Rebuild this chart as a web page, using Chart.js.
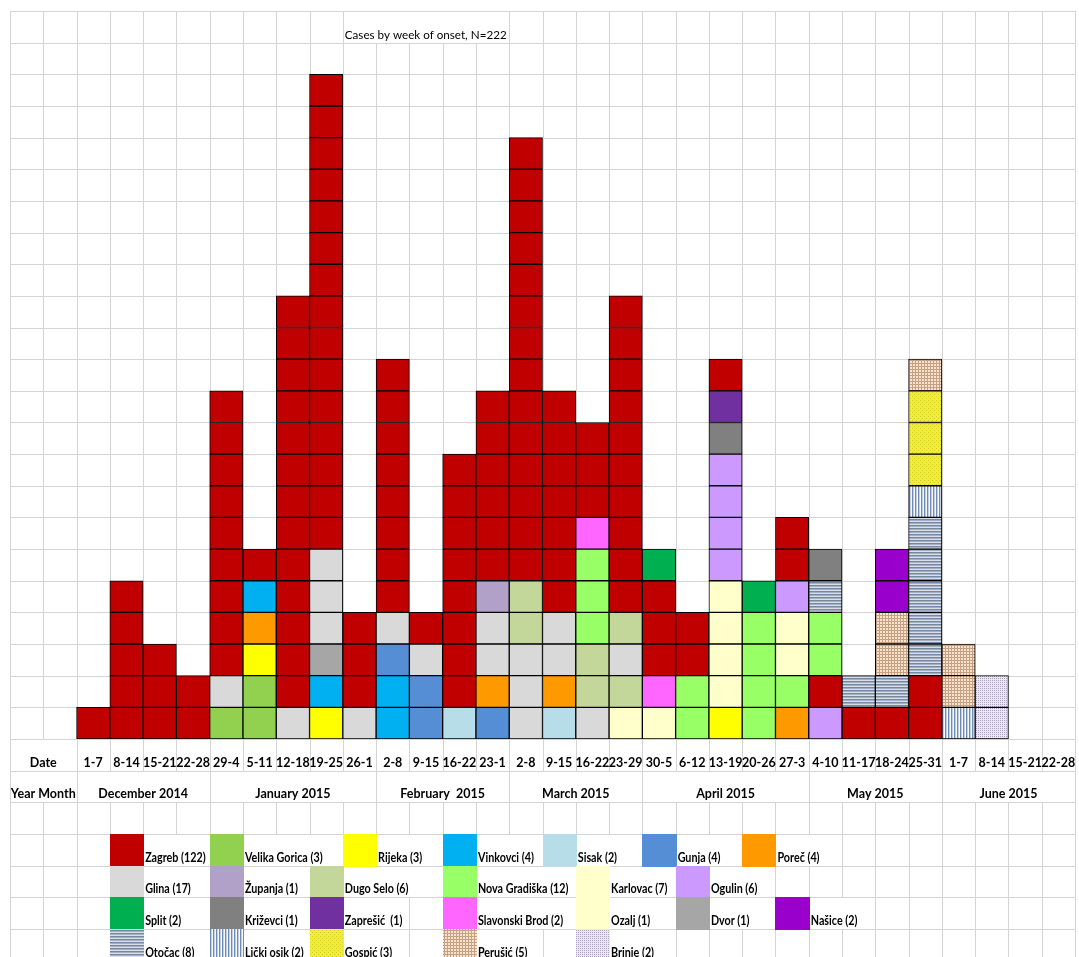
<!DOCTYPE html>
<html>
<head>
<meta charset="utf-8">
<title>Cases by week of onset</title>
<script src="https://cdn.jsdelivr.net/npm/chart.js@4.4.1/dist/chart.umd.min.js"></script>
<style>
  html, body { margin: 0; padding: 0; background: #fff; }
</style>
</head>
<body>
<canvas id="epiChart" width="1079" height="957"></canvas>
<script>
// ==========================================
// DATA
// ==========================================

// weeks of onset, Dec 2014 - Jun 2015
const weekLabels = [
  "1-7", "8-14", "15-21", "22-28", "29-4", "5-11", "12-18", "19-25", "26-1",
  "2-8", "9-15", "16-22", "23-1", "2-8", "9-15", "16-22", "23-29", "30-5",
  "6-12", "13-19", "20-26", "27-3", "4-10", "11-17", "18-24", "25-31",
  "1-7", "8-14", "15-21", "22-28"
];

const monthLabels = ["December 2014", "January 2015", "February  2015", "March 2015", "April 2015", "May 2015", "June 2015"];
const monthWeeks = [4, 5, 4, 4, 5, 4, 4];

// places (legend order) with the counts printed in the legend
const placeCodes = ["Zg", "VG", "Ri", "Vi", "Si", "Gu", "Po", "Gl", "Zu", "DS", "NG", "Ka", "Og", "Sp", "Kr", "Zp", "SB", "Oz", "Dv", "Na", "Ot", "LO", "Gs", "Pe", "Br"];
const placeNames = ["Zagreb", "Velika Gorica", "Rijeka", "Vinkovci", "Sisak", "Gunja", "Poreč", "Glina", "Županja", "Dugo Selo", "Nova Gradiška", "Karlovac", "Ogulin", "Split", "Križevci", "Zaprešić ", "Slavonski Brod", "Ozalj", "Dvor", "Našice", "Otočac", "Lički osik", "Gospić", "Perušić", "Brinje"];
const placeCounts = [122, 3, 3, 4, 2, 4, 4, 17, 1, 6, 12, 7, 6, 2, 1, 1, 2, 1, 1, 2, 8, 2, 3, 5, 2];

// cases per week, bottom to top, as runs of [place, number of cases]
const weekCases = [
  [["Zg", 1]],
  [["Zg", 5]],
  [["Zg", 3]],
  [["Zg", 2]],
  [["VG", 1], ["Gl", 1], ["Zg", 9]],
  [["VG", 2], ["Ri", 1], ["Po", 1], ["Vi", 1], ["Zg", 1]],
  [["Gl", 1], ["Zg", 13]],
  [["Ri", 1], ["Vi", 1], ["Dv", 1], ["Gl", 3], ["Zg", 15]],
  [["Gl", 1], ["Zg", 3]],
  [["Vi", 2], ["Gu", 1], ["Gl", 1], ["Zg", 8]],
  [["Gu", 2], ["Gl", 1], ["Zg", 1]],
  [["Si", 1], ["Zg", 8]],
  [["Gu", 1], ["Po", 1], ["Gl", 2], ["Zu", 1], ["Zg", 6]],
  [["Gl", 3], ["DS", 2], ["Zg", 14]],
  [["Si", 1], ["Po", 1], ["Gl", 2], ["Zg", 7]],
  [["Gl", 1], ["DS", 2], ["NG", 3], ["SB", 1], ["Zg", 3]],
  [["Ka", 1], ["DS", 1], ["Gl", 1], ["DS", 1], ["Zg", 10]],
  [["Oz", 1], ["SB", 1], ["Zg", 3], ["Sp", 1]],
  [["NG", 2], ["Zg", 2]],
  [["Ri", 1], ["Ka", 4], ["Og", 4], ["Kr", 1], ["Zp", 1], ["Zg", 1]],
  [["NG", 4], ["Sp", 1]],
  [["Po", 1], ["NG", 1], ["Ka", 2], ["Og", 1], ["Zg", 2]],
  [["Og", 1], ["Zg", 1], ["NG", 2], ["Ot", 1], ["Kr", 1]],
  [["Zg", 1], ["Ot", 1]],
  [["Zg", 1], ["Ot", 1], ["Pe", 2], ["Na", 2]],
  [["Zg", 2], ["Ot", 5], ["LO", 1], ["Gs", 3], ["Pe", 1]],
  [["LO", 1], ["Pe", 2]],
  [["Br", 2]],
  [],
  []
];

// ==========================================
// STYLES
// ==========================================

function makePattern(w, h, bg, marks) {
  const c = document.createElement("canvas");
  c.width = w; c.height = h;
  const p = c.getContext("2d");
  p.fillStyle = bg;
  p.fillRect(0, 0, w, h);
  marks.forEach(m => { p.fillStyle = m[4]; p.fillRect(m[0], m[1], m[2], m[3]); });
  return p.createPattern(c, "repeat");
}

const placeFills = {
  Zg: "#C00000", VG: "#92D050", Ri: "#FFFF00", Vi: "#00B0F0", Si: "#B7DEE8",
  Gu: "#558ED5", Po: "#FF9900", Gl: "#D9D9D9", Zu: "#B1A0C7", DS: "#C4D79B",
  NG: "#99FF66", Ka: "#FFFFCC", Og: "#CC99FF", Sp: "#00B050", Kr: "#808080",
  Zp: "#7030A0", SB: "#FF66FF", Oz: "#FFFFCC", Dv: "#A6A6A6", Na: "#9900CC",
  Ot: makePattern(3, 3, "#D8DFE8", [[0, 0, 3, 1, "#7688A2"], [0, 1, 3, 1, "#A3B0C3"]]),
  LO: makePattern(3, 3, "#F4F7FB", [[0, 0, 1, 3, "#6F8BB3"], [1, 0, 1, 3, "#C3D0E2"]]),
  Gs: makePattern(4, 4, "#F0EE38", [[0, 0, 1, 1, "#D0CA28"], [2, 2, 1, 1, "#D0CA28"]]),
  Pe: makePattern(3, 3, "#FBE2CA", [[0, 0, 3, 1, "#C4A084"], [0, 0, 1, 3, "#C4A084"]]),
  Br: makePattern(2, 2, "#ECE8F0", [[0, 0, 1, 1, "#ADA2BC"]])
};

// legend cell [row, column] inside the sheet, below the axis rows
const legendSlots = {
  Zg: [0, 3], VG: [0, 6], Ri: [0, 10], Vi: [0, 13], Si: [0, 16], Gu: [0, 19], Po: [0, 22],
  Gl: [1, 3], Zu: [1, 6], DS: [1, 9], NG: [1, 13], Ka: [1, 17], Og: [1, 20],
  Sp: [2, 3], Kr: [2, 6], Zp: [2, 9], SB: [2, 13], Oz: [2, 17], Dv: [2, 20], Na: [2, 23],
  Ot: [3, 3], LO: [3, 6], Gs: [3, 9], Pe: [3, 13], Br: [3, 17]
};

const FONT = "Lato, 'Liberation Sans', sans-serif";
const GRID = "#D4D4D4";

// ==========================================
// BUILD THE STACKS (one box per case)
// ==========================================

// two leading sheet columns hold the "Date" / "Year Month" captions
const columnLabels = ["", ""].concat(weekLabels);
const columnBoxes = [[], []].concat(weekCases.map(runs => {
  const boxes = [];
  runs.forEach(r => { for (let i = 0; i < r[1]; i++) boxes.push(r[0]); });
  return boxes;
}));

const layerCount = Math.max(...columnBoxes.map(b => b.length));
const datasets = [];
for (let k = 0; k < layerCount; k++) {
  datasets.push({
    label: "case " + (k + 1),
    data: columnBoxes.map(b => (b[k] ? 1 : null)),
    backgroundColor: columnBoxes.map(b => (b[k] ? placeFills[b[k]] : "rgba(0,0,0,0)")),
    borderColor: "#000000",
    borderWidth: 1,
    borderSkipped: false,
    barPercentage: 1,
    categoryPercentage: 1
  });
}

// ==========================================
// SPREADSHEET GRID + CAPTIONS + LEGEND
// ==========================================

function sheetGeometry(chart) {
  const x = chart.scales.x, y = chart.scales.y;
  const colW = x.getPixelForValue(1) - x.getPixelForValue(0);
  const rowH = y.getPixelForValue(0) - y.getPixelForValue(1);
  const left = x.getPixelForValue(0) - colW / 2;
  const top = y.getPixelForValue(y.max);
  return {
    colW, rowH,
    cols: columnLabels.length,
    axisRow: y.max,
    colX: c => left + c * colW,
    rowY: r => top + r * rowH
  };
}

function clearCells(ctx, g, c0, c1, r) {
  const x0 = Math.round(g.colX(c0)) + 1, x1 = Math.round(g.colX(c1 + 1));
  const y0 = Math.round(g.rowY(r)) + 1, y1 = Math.round(g.rowY(r + 1));
  ctx.fillStyle = "#fff";
  ctx.fillRect(x0, y0, x1 - x0, y1 - y0);
}

// left-aligned cell text spilling over the empty cells to its right
function overflowText(ctx, g, text, c, r, font, squeeze) {
  ctx.font = font;
  const w = ctx.measureText(text).width * squeeze;
  const n = Math.max(1, Math.ceil((w + 4) / g.colW));
  clearCells(ctx, g, c, c + n - 1, r);
  ctx.fillStyle = "#000";
  ctx.textAlign = "left";
  ctx.textBaseline = "alphabetic";
  ctx.fillText(text, g.colX(c) + 2, g.rowY(r + 1) - 4, w);
}

function mergedText(ctx, g, text, c0, c1, r, font) {
  clearCells(ctx, g, c0, c1, r);
  ctx.font = font;
  ctx.fillStyle = "#000";
  ctx.textAlign = "center";
  ctx.textBaseline = "alphabetic";
  ctx.fillText(text, (g.colX(c0) + g.colX(c1 + 1)) / 2, g.rowY(r + 1) - 4);
}

const sheetPlugin = {
  id: "sheetPlugin",
  beforeDraw(chart) {
    const ctx = chart.ctx;
    const g = sheetGeometry(chart);
    ctx.save();
    ctx.fillStyle = "#fff";
    ctx.fillRect(0, 0, chart.width, chart.height);

    // gridlines
    ctx.strokeStyle = GRID;
    ctx.lineWidth = 1;
    ctx.beginPath();
    for (let c = 0; c <= g.cols; c++) {
      const px = Math.round(g.colX(c)) + 0.5;
      ctx.moveTo(px, Math.round(g.rowY(0)));
      ctx.lineTo(px, chart.height);
    }
    for (let r = 0; g.rowY(r) < chart.height; r++) {
      const py = Math.round(g.rowY(r)) + 0.5;
      ctx.moveTo(Math.round(g.colX(0)), py);
      ctx.lineTo(Math.round(g.colX(g.cols)) + 1, py);
    }
    ctx.stroke();

    // title
    overflowText(ctx, g, "Cases by week of onset, N=222", 10, 0, "12px " + FONT, 0.97);

    // axis captions
    const bold = "bold 12.5px " + FONT;
    mergedText(ctx, g, "Date", 0, 1, g.axisRow, bold);
    mergedText(ctx, g, "Year Month", 0, 1, g.axisRow + 1, bold);
    let c = 2;
    monthLabels.forEach((m, i) => {
      mergedText(ctx, g, m, c, c + monthWeeks[i] - 1, g.axisRow + 1, bold);
      c += monthWeeks[i];
    });

    // legend
    const legendTop = g.axisRow + 3;
    placeCodes.forEach((code, i) => {
      const slot = legendSlots[code];
      const r = legendTop + slot[0], col = slot[1];
      const x0 = Math.round(g.colX(col)), x1 = Math.round(g.colX(col + 1)) + 1;
      const y0 = Math.round(g.rowY(r)), y1 = Math.round(g.rowY(r + 1)) + 1;
      ctx.fillStyle = placeFills[code];
      ctx.fillRect(x0, y0, x1 - x0, y1 - y0);
      overflowText(ctx, g, placeNames[i] + " (" + placeCounts[i] + ")", col + 1, r, "bold 12.5px " + FONT, 0.86);
    });
    ctx.restore();
  }
};

// ==========================================
// EPI CURVE
// ==========================================

const epiChart = document.getElementById("epiChart");

new Chart(epiChart, {

  type: "bar",

  data: {
    labels: columnLabels,
    datasets: datasets
  },

  options: {
    responsive: false,
    animation: false,
    devicePixelRatio: 1,
    layout: {
      padding: { left: 10, right: 4, top: 11, bottom: 186 }
    },
    plugins: {
      legend: { display: false },
      title: { display: false },
      tooltip: { enabled: false }
    },
    scales: {
      x: {
        stacked: true,
        grid: { display: false, drawTicks: false },
        border: { display: false },
        ticks: {
          autoSkip: false,
          maxRotation: 0,
          minRotation: 0,
          padding: 16,
          color: "#000",
          font: { family: FONT, size: 12.5, weight: "bold" }
        },
        afterFit: scale => {
          scale.height = 32;
          scale.paddingLeft = 0;
          scale.paddingRight = 0;
        }
      },
      y: {
        stacked: true,
        display: false,
        min: 0,
        max: 23
      }
    }
  },

  plugins: [sheetPlugin]

});
</script>
</body>
</html>
